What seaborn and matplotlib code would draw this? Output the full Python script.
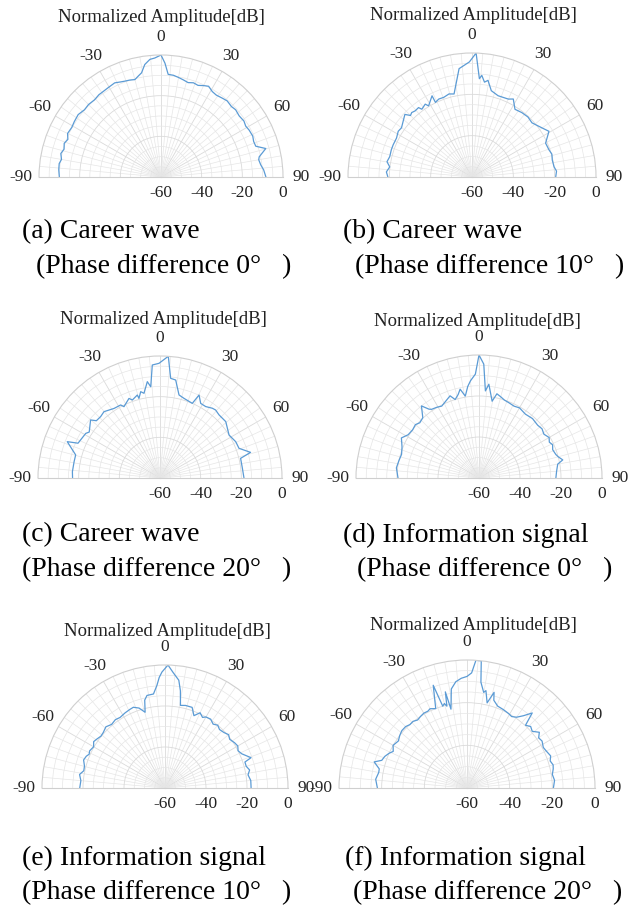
import numpy as np
import matplotlib
matplotlib.use("Agg")
import matplotlib.pyplot as plt
from matplotlib.transforms import offset_copy
import seaborn as sns

sns.set_theme(style="white")
plt.rcParams["font.family"] = ["Liberation Serif", "DejaVu Serif"]
plt.rcParams["axes.unicode_minus"] = False

# ---- text / ticks ----
theta_ticks = [-90, -60, -30, 0, 30, 60, 90]
theta_labels = ["-90", "-60", "-30", "0", "30", "60", "90"]
r_ticks = [-60, -40, -20, 0]
r_labels = ["-60", "-40", "-20", "0"]
title_text = "Normalized Amplitude[dB]"
caption_line1 = ["(a) Career wave", "(b) Career wave", "(c) Career wave",
                 "(d) Information signal", "(e) Information signal", "(f) Information signal"]
caption_line2 = ["(Phase difference 0°   )", "(Phase difference 10°   )",
                 "(Phase difference 20°   )", "(Phase difference 0°   )",
                 "(Phase difference 10°   )", "(Phase difference 20°   )"]

# ---- data: angle [deg], normalized amplitude [dB] ----
a_theta = [-90, -86, -82.5, -80, -76.8, -74, -70.8, -68, -65, -61, -57.4, -53, -48.7, -45,
           -40.7, -37, -35.5, -31, -26.2, -23, -20.8, -18, -15, -12.5, -10.6, -8.2, -5.4, -3, 0,
           2, 4, 7, 10, 13, 16, 19, 22, 25, 27.7, 31, 34, 37.8, 41, 45, 48, 52, 56, 59, 62,
           66, 69, 72, 74.8, 78.4, 80, 83, 86, 90]
a_db = [-10, -9.6, -9.5, -10.3, -9.4, -10.4, -9.6, -10.6, -9.3, -9.8, -9.4, -9.0, -9.9, -9.6,
        -9.9, -9.3, -9.3, -9.0, -8.4, -9.2, -9.6, -9.9, -10.4, -9.0, -7.9, -4.1, -1.9, -1.4, 0,
        -4.0, -9.4, -9.6, -10.3, -11.0, -11.7, -11.0, -11.4, -10.4, -9.6, -11.0, -11.4, -10.9,
        -10.4, -11.0, -10.6, -11.2, -10.8, -11.4, -10.9, -10.6, -11.2, -11.0, -6.6, -10.7,
        -11.2, -10.6, -9.4, -8.4]

b_theta = [-90, -86.6, -83, -79.8, -76.1, -71.4, -67.8, -62.7, -58.2, -55.1, -50.9, -47,
           -45, -43.1, -40.7, -37.6, -36.5, -32.7, -31.4, -26.2, -26.1, -23.1, -19.5, -15.5,
           -12.2, -6.8, -1.3, 1.9, 4.3, 5.5, 7.5, 9.4, 12.6, 17.8, 25, 27.9, 32.4, 37.7, 43,
           47.9, 55, 59.3, 65.3, 70.6, 74, 78.1, 82.9, 86, 90]
b_db = [-19.3, -18.5, -19.9, -18.2, -19.0, -18.8, -18.8, -18.9, -18.0, -18.4, -17.1, -15.6,
        -17.9, -17.3, -17.8, -17.6, -19.2, -18.1, -19.7, -16.2, -19.8, -19.0, -19.1, -18.3,
        -18.9, -7.2, -4.3, 0, -12.3, -10.6, -13.7, -12.6, -17.2, -18.7, -18.4, -17.3, -21.2,
        -20.6, -20.3, -20.9, -18.6, -16.7, -20.8, -20.5, -19.8, -20.3, -20.0, -19.0, -19.5]

c_theta = [-90, -85.9, -79.2, -74.7, -68.6, -67, -59, -57, -50.1, -48, -44, -40.2, -33.4,
           -28.3, -26.8, -21.3, -19.5, -15.3, -14.8, -12.6, -10.7, -7.5, -5.8, -3.9, -0.5,
           3.9, 6.1, 9.1, 12.9, 16.8, 23.4, 25.2, 28.6, 32.6, 36.9, 39.3, 43.1, 49.4, 58.1,
           64.4, 69.4, 74.2, 76.3, 83.3, 90]
c_db = [-17.0, -16.8, -17.0, -17.0, -11.0, -16.2, -17.4, -18.5, -15.5, -17.9, -18.0, -17.3,
        -19.0, -19.2, -20.7, -18.0, -19.3, -17.7, -19.5, -16.5, -17.6, -12.2, -14.9, -4.3,
        -3.6, 0, -10.7, -11.2, -18.1, -19.1, -20.0, -14.9, -18.2, -18.3, -17.1, -16.8, -17.5,
        -17.4, -20.0, -18.7, -18.5, -13.7, -19.2, -19.2, -18.7]

d_theta = [-90, -83, -78, -73, -68, -62.7, -58.6, -54, -50, -47, -43, -38.6, -36, -34.6,
           -31, -27.4, -23, -19.4, -16.9, -14, -12, -9.5, -7, -5, -2, 0, 2.4, 4.2, 6, 9.7,
           12, 15, 18, 21.7, 26, 30, 36, 42, 48, 52, 56, 60, 63, 65.7, 69, 73, 75, 77.8, 80,
           85, 90]
d_db = [-20.5, -19.4, -20.0, -20.5, -19.5, -17.4, -19.5, -20.0, -19.5, -20.5, -19.8, -15.0,
        -18.5, -19.3, -19.8, -20.5, -19.0, -17.5, -20.0, -18.0, -15.7, -19.5, -15.0, -12.4,
        -9.3, 0, -4.4, -17.4, -14.0, -22.0, -18.0, -19.0, -20.0, -20.5, -21.0, -20.5, -21.5,
        -21.0, -21.5, -21.0, -21.8, -20.5, -21.5, -20.6, -21.5, -20.8, -20.0, -18.2, -21.0,
        -22.0, -22.5]

e_theta = [-90, -85, -81, -78, -74.8, -71, -68, -66, -63.8, -60, -57, -54.6, -51, -48, -44,
           -40, -36, -32.5, -28, -24, -21.4, -18, -14.7, -13, -11, -7, -4.5, -3, -1.5, 1.4,
           4, 7.3, 9, 10.6, 14, 18.6, 21.8, 25, 28, 30, 33.6, 37, 40, 43, 46.8, 50, 53, 57,
           60, 63, 66, 70.6, 72, 75, 78, 81, 85, 90]
e_db = [-18.4, -18.8, -17.8, -19.5, -19.3, -18.0, -18.6, -19.5, -19.0, -19.8, -18.5, -19.0,
        -19.8, -19.5, -18.5, -19.5, -18.8, -19.2, -18.5, -18.0, -17.7, -19.0, -21.8, -16.0,
        -14.0, -13.8, -9.8, -6.0, -3.4, 0, -3.5, -7.0, -12.0, -19.0, -18.5, -18.5, -22.0,
        -19.5, -21.0, -20.0, -19.7, -21.0, -20.0, -21.0, -20.5, -19.5, -20.5, -19.5, -19.0,
        -20.0, -19.0, -15.5, -19.0, -19.0, -17.8, -19.0, -18.0, -18.0]

f_theta = [-90, -87, -84.5, -80, -77.7, -74.3, -72, -69, -66, -63.6, -60, -55.6, -52,
           -48.6, -45, -42, -39, -36, -33, -30, -27, -25, -21.5, -18.2, -16.5, -15, -13.8,
           -12.7, -11.5, -9, -6, -3, 0, 2.3, 4, 6.4, 7.5, 9.9, 11, 13.3, 15.8, 17, 20.5, 25,
           29, 32, 35, 38, 41, 43, 46, 49, 52.4, 55, 58, 62, 65, 69, 72, 75, 77.5, 81, 85, 90]
f_db = [-18.0, -17.5, -17.0, -18.0, -17.9, -14.8, -18.0, -18.7, -20.0, -21.4, -20.0, -21.0,
        -20.0, -19.3, -19.3, -20.0, -19.8, -20.6, -20.0, -19.5, -19.6, -19.0, -20.0, -9.3,
        -20.0, -19.0, -20.5, -13.8, -22.3, -13.0, -9.9, -8.5, -7.7, -6.0, 0, 0, -10.0,
        -14.5, -13.5, -19.0, -13.4, -17.0, -19.0, -19.5, -20.0, -20.5, -19.5, -17.0, -13.4,
        -19.8, -18.5, -19.5, -17.2, -19.0, -18.5, -19.5, -19.0, -18.0, -19.0, -18.2, -18.6,
        -19.5, -18.8, -19.5]

series = [(a_theta, a_db), (b_theta, b_db), (c_theta, c_db),
          (d_theta, d_db), (e_theta, e_db), (f_theta, f_db)]

# ---- layout (pixels): polar centre x, centre y, radius ----
W, H = 640, 914
panels = [(161, 177, 122), (472, 177, 124), (160, 478, 122),
          (479, 478, 123), (165, 788, 123), (467, 788, 128)]
titles_xy = [(161, 17), (473, 16), (163, 320), (477, 321), (167, 631), (473, 626)]
cap1_xy = [(22, 232), (343, 232), (22, 535), (343, 535), (22, 858), (345, 858)]
cap2_xy = [(36, 267), (355, 267), (22, 570), (357, 570), (22, 893), (353, 893)]

LINE = "#5b9bd5"
MAJ = "#dadada"
MIN = "#e6e6e6"

fig = plt.figure(figsize=(W / 100, H / 100), dpi=100)

for i, ((cx, cy, R), (th, db)) in enumerate(zip(panels, series)):
    # square box of side 2R; the half-disc is centred vertically in it
    top_px = cy - 1.5 * R
    ax = fig.add_axes([(cx - R) / W, 1 - (top_px + 2 * R) / H, 2 * R / W, 2 * R / H],
                      projection="polar")
    ax.set_theta_zero_location("N")
    ax.set_theta_direction(-1)
    ax.set_thetamin(-90)
    ax.set_thetamax(90)
    ax.set_ylim(-60, 0)
    ax.set_facecolor("white")
    ax.patch.set_alpha(0)

    sns.lineplot(x=np.deg2rad(th), y=db, ax=ax, sort=False, estimator=None,
                 color=LINE, linewidth=0.9)

    ax.set_xticks(np.deg2rad(theta_ticks))
    ax.set_xticklabels(theta_labels, fontsize=12.5)
    ax.set_xticks(np.deg2rad(np.arange(-90, 91, 5)), minor=True)
    ax.set_yticks([-40, -20])
    ax.set_yticks(np.arange(-55, 0, 5), minor=True)
    ax.set_yticklabels([])
    ax.tick_params(axis="x", which="major", pad=6, length=0)
    ax.tick_params(which="both", length=0)
    ax.grid(True, which="major", color=MAJ, linewidth=0.6)
    ax.grid(True, which="minor", color=MIN, linewidth=0.5)
    ax.set_xlabel("")
    ax.set_ylabel("")
    for sp in ax.spines.values():
        sp.set_color("#cfcfcf")
        sp.set_linewidth(0.8)

    tr = offset_copy(ax.transData, fig=fig, y=-16, units="dots")
    for rv, rl in zip(r_ticks, r_labels):
        ax.text(np.deg2rad(90), rv, rl, transform=tr, ha="center", va="center",
                fontsize=12.5, color="#222222", clip_on=False)

    tx, ty = titles_xy[i]
    fig.text(tx / W, 1 - ty / H, title_text, ha="center", va="center",
             fontsize=13.5, color="#222222")
    x1, y1 = cap1_xy[i]
    fig.text(x1 / W, 1 - y1 / H, caption_line1[i], ha="left", va="center",
             fontsize=20, color="black")
    x2, y2 = cap2_xy[i]
    fig.text(x2 / W, 1 - y2 / H, caption_line2[i], ha="left", va="center",
             fontsize=20, color="black")

fig.savefig("out.png", dpi=100, facecolor="white")
